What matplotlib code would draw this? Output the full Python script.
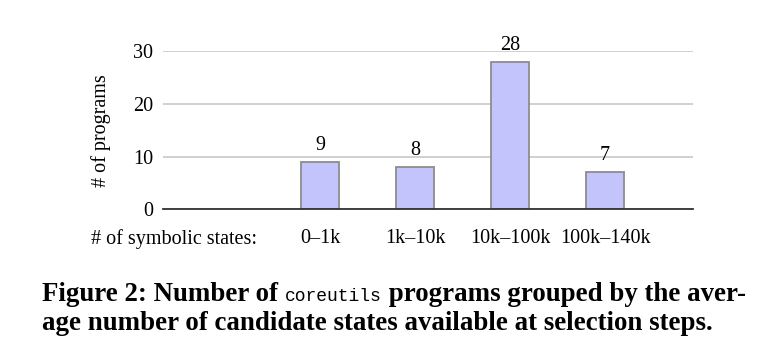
import matplotlib
matplotlib.use("Agg")
import matplotlib.pyplot as plt
import matplotlib.transforms as mtransforms

# data
categories = ["0–1k", "1k–10k", "10k–100k", "100k–140k"]
counts = [9, 8, 28, 7]
x_title = "# of symbolic states:"
y_title = "# of programs"
yticks = [0, 10, 20, 30]

plt.rcParams['font.family'] = ['Liberation Serif', 'DejaVu Serif']

fig = plt.figure(figsize=(7.59, 3.55), dpi=100)
ax = fig.add_axes([0.2144, 0.4104, 0.913 - 0.2144, 0.8563 - 0.4104])

pos = list(range(1, len(categories) + 1))
bars = ax.bar(pos, counts, width=0.4, color="#c4c4fc", edgecolor="#8c8c8c",
              linewidth=1.3, zorder=3)
ax.bar_label(bars, labels=[str(c) for c in counts], padding=5, fontsize=14.5)

ax.set_xlim(-0.656, 4.926)
ax.set_ylim(0, 30)
ax.set_yticks(yticks)
ax.yaxis.grid(True, color="#c8c8c8", linewidth=1.2, zorder=0)
ax.set_axisbelow(True)
for s in ["left", "right", "top"]:
    ax.spines[s].set_visible(False)
ax.spines["bottom"].set_color("#333333")
ax.spines["bottom"].set_linewidth(1.3)
ax.spines["bottom"].set_zorder(4)

ax.set_xticks([0] + pos)
ax.set_xticklabels([x_title] + categories)
ax.tick_params(axis="x", length=0, pad=14, labelsize=14.5)
ax.tick_params(axis="y", length=0, pad=7, labelsize=14.5)
first = ax.get_xticklabels()[0]
first.set_ha("right")
first.set_transform(first.get_transform() +
                    mtransforms.ScaledTranslation(32 / 100, 0, fig.dpi_scale_trans))

ax.set_ylabel(y_title, fontsize=14.5)
ax.yaxis.set_label_coords(111 / 759, 0.5)
ax.yaxis.label.set_transform(mtransforms.blended_transform_factory(fig.transFigure, ax.transAxes))

# caption, mixed fonts
renderer = fig.canvas.get_renderer()
parts = [
    ("Figure 2: Number of ", dict(fontweight="bold", fontsize=19.4)),
    ("coreutils", dict(family="Liberation Mono", fontsize=13)),
    (" programs grouped by the aver-", dict(fontweight="bold", fontsize=19.4)),
]
x = 42
for txt, kw in parts:
    t = fig.text(x / 759, 1 - 301 / 355, txt, va="baseline", ha="left", **kw)
    x += t.get_window_extent(renderer).width
fig.text(42 / 759, 1 - 330 / 355,
         "age number of candidate states available at selection steps.",
         va="baseline", ha="left", fontweight="bold", fontsize=19.4)

fig.savefig("out.png", dpi=100)
